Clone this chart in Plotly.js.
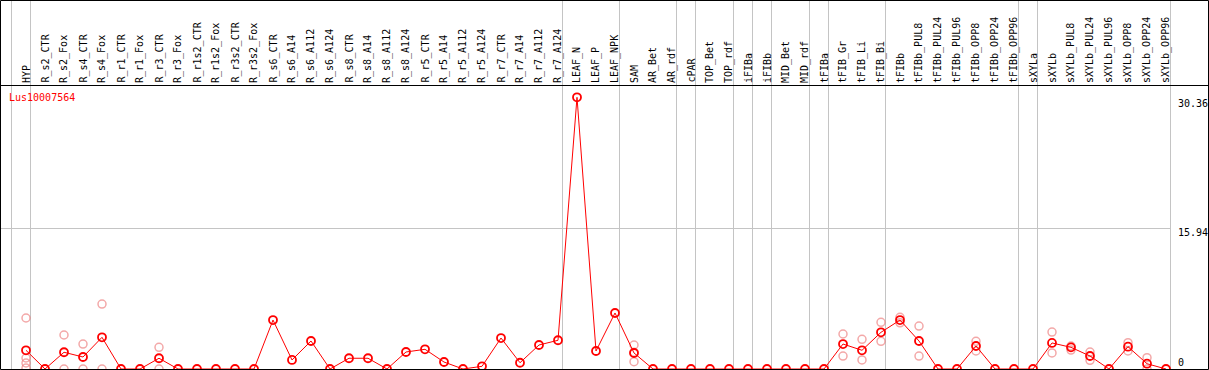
<!DOCTYPE html>
<html><head><meta charset="utf-8">
<script src="https://cdn.plot.ly/plotly-3.0.1.min.js"></script>
<style>html,body{margin:0;padding:0;background:#fff;overflow:hidden}#chart{width:1209px;height:370px}</style>
</head><body><div id="chart"></div>
<script>
const categories = ['HYP','R_s2_CTR','R_s2_Fox','R_s4_CTR','R_s4_Fox','R_r1_CTR','R_r1_Fox','R_r3_CTR','R_r3_Fox',
  'R_r1s2_CTR','R_r1s2_Fox','R_r3s2_CTR','R_r3s2_Fox','R_s6_CTR','R_s6_A14','R_s6_A112','R_s6_A124',
  'R_s8_CTR','R_s8_A14','R_s8_A112','R_s8_A124','R_r5_CTR','R_r5_A14','R_r5_A112','R_r5_A124',
  'R_r7_CTR','R_r7_A14','R_r7_A112','R_r7_A124','LEAF_N','LEAF_P','LEAF_NPK','SAM','AR_Bet','AR_rdf',
  'cPAR','TOP_Bet','TOP_rdf','iFIBa','iFIBb','MID_Bet','MID_rdf','tFIBa','tFIB_Gr','tFIB_Li','tFIB_Bi',
  'tFIBb','tFIBb_PUL8','tFIBb_PUL24','tFIBb_PUL96','tFIBb_OPP8','tFIBb_OPP24','tFIBb_OPP96','sXYLa',
  'sXYLb','sXYLb_PUL8','sXYLb_PUL24','sXYLb_PUL96','sXYLb_OPP8','sXYLb_OPP24','sXYLb_OPP96'];

const meanValues = [2.09,0,1.87,1.34,3.54,0,0,1.20,0,0,0,0,0,5.47,1.01,3.13,0,
  1.20,1.20,0,1.90,2.20,0.78,0,0.30,3.46,0.70,2.68,3.21,30.36,2.01,6.26,1.79,0,0,
  0,0,0,0,0,0,0,0,2.79,2.09,4.10,5.47,3.13,0,0,2.57,0,0,0,
  2.91,2.42,1.45,0,2.49,0.59,0];

const rep1 = [5.70,null,3.80,2.79,7.26,null,null,2.42,null,null,null,null,null,null,null,null,null,
  null,null,null,null,null,null,null,null,null,null,null,null,null,null,null,2.68,null,null,
  null,null,null,null,null,null,null,null,3.91,3.32,5.22,5.78,4.80,null,null,3.09,null,null,null,
  4.13,2.57,1.90,null,2.94,1.26,null];
const rep2 = [1.23,null,0,0,0,null,null,0,null,null,null,null,null,null,null,null,null,
  null,null,null,null,null,null,null,null,null,null,null,null,null,null,null,1.87,null,null,
  null,null,null,null,null,null,null,null,1.45,1.01,3.09,5.16,1.45,null,null,2.01,null,null,null,
  1.79,2.12,0.97,null,2.01,0,null];
const rep3 = [0.67,null,null,null,null,null,null,null,null,null,null,null,null,null,null,null,null,
  null,null,null,null,null,null,null,null,null,null,null,null,null,null,null,0.82,null,null,
  null,null,null,null,null,null,null,null,null,null,null,null,null,null,null,null,null,null,null,
  null,null,null,null,null,null,null];
const rep4 = [0.11,null,null,null,null,null,null,null,null,null,null,null,null,null,null,null,null,
  null,null,null,null,null,null,null,null,null,null,null,null,null,null,null,null,null,null,
  null,null,null,null,null,null,null,null,null,null,null,null,null,null,null,null,null,null,null,
  null,null,null,null,null,null,null];

const geneLabel = 'Lus10007564';
const yTickValues = [30.36, 15.94, 0];
const yTickLabels = ['30.36', '15.94', '0'];
const groupBreakAfter = ['HYP','R_r7_A124','LEAF_NPK','AR_rdf','cPAR','TOP_rdf','iFIBa','iFIBb',
  'MID_rdf','tFIBa','tFIB_Bi','tFIBb_OPP96','sXYLa','sXYLb_OPP96'];

const W = 1209, H = 370;
const FONT = 'DejaVu Sans Mono, monospace';

// replicate points
const rx = [], ry = [];
[rep1, rep2, rep3, rep4].forEach(r => r.forEach((v, i) => { if (v !== null) { rx.push(categories[i]); ry.push(v); } }));

const traces = [
  {x: rx, y: ry, type: 'scatter', mode: 'markers', hoverinfo: 'skip',
   marker: {symbol: 'circle-open', size: 8, color: 'rgba(235,110,110,0.6)', line: {width: 1.5, color: 'rgba(235,110,110,0.6)'}}},
  {x: categories, y: meanValues, type: 'scatter', mode: 'lines+markers',
   line: {color: '#ff0000', width: 1},
   marker: {symbol: 'circle-open', size: 8, color: '#ff0000', line: {width: 1.8, color: '#ff0000'}}}
];

const off = 0.237;
const shapes = [];
const breakIdx = [-1].concat(groupBreakAfter.map(c => categories.indexOf(c)));
breakIdx.forEach(i => shapes.push({type: 'line', xref: 'x', yref: 'paper', x0: i + off, x1: i + off, y0: 0, y1: 1,
  line: {color: '#c4c4c4', width: 1}, layer: 'below'}));
shapes.push({type: 'line', xref: 'x', yref: 'paper', x0: -1.5, x1: categories.length - 1 + off,
  y0: 1 - 228.5 / H, y1: 1 - 228.5 / H, line: {color: '#c4c4c4', width: 1}, layer: 'below'});
shapes.push({type: 'line', xref: 'paper', yref: 'paper', x0: 0, x1: 1, y0: 1 - 85.5 / H, y1: 1 - 85.5 / H,
  line: {color: '#000', width: 1}});
shapes.push({type: 'rect', xref: 'paper', yref: 'paper', x0: 0.5 / W, x1: 1208.5 / W, y0: 0.5 / H, y1: 1 - 0.5 / H,
  line: {color: '#000', width: 1}});

const annotations = categories.map(c => ({x: c, xref: 'x', y: 1 - 84 / H, yref: 'paper', text: c,
  showarrow: false, textangle: -90, xanchor: 'center', yanchor: 'bottom',
  font: {family: FONT, size: 10, color: '#000'}, borderpad: 0}));
yTickValues.forEach((v, k) => annotations.push({x: 1177 / W, xref: 'paper', y: v, yref: 'y', text: yTickLabels[k],
  showarrow: false, xanchor: 'left', yanchor: v === 0 ? 'bottom' : 'top', borderpad: 0,
  font: {family: FONT, size: 10, color: '#000'}}));
annotations.push({x: 8 / W, xref: 'paper', y: 1 - 97 / H, yref: 'paper', text: geneLabel, showarrow: false,
  xanchor: 'left', yanchor: 'middle', borderpad: 0, font: {family: FONT, size: 10, color: '#ff0000'}});

const layout = {
  width: W, height: H, autosize: false,
  margin: {l: 0, r: 0, t: 0, b: 0, pad: 0},
  paper_bgcolor: '#fff', plot_bgcolor: '#fff', showlegend: false,
  xaxis: {type: 'category', categoryorder: 'array', categoryarray: categories,
    range: [-26 / 19, -26 / 19 + W / 19], showgrid: false, zeroline: false, showticklabels: false,
    showline: false, ticks: '', fixedrange: true},
  yaxis: {range: [-0.112, 41.233], showgrid: false, zeroline: false, showticklabels: false,
    showline: false, ticks: '', fixedrange: true},
  shapes: shapes, annotations: annotations
};

Plotly.newPlot('chart', traces, layout, {staticPlot: true, displayModeBar: false});
</script></body></html>
